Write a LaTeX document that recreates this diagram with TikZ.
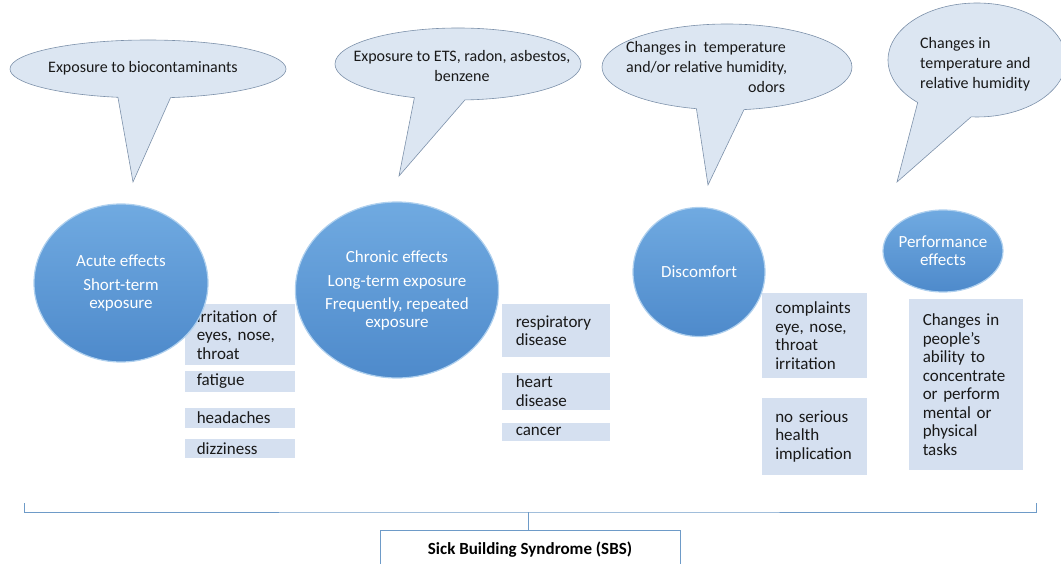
\documentclass[tikz,border=0pt]{standalone}
\usepackage{fontspec}
\setmainfont{Carlito}
\usetikzlibrary{positioning, shapes.geometric, shapes.callouts}
\definecolor{bubblefill}{RGB}{220,230,242}
\definecolor{bubbleline}{RGB}{125,145,170}
\definecolor{effecttop}{RGB}{112,170,225}
\definecolor{effectbot}{RGB}{78,138,203}
\definecolor{effectrim}{RGB}{175,208,238}
\definecolor{boxfill}{RGB}{213,224,240}
\definecolor{bracketblue}{RGB}{110,155,200}
\tikzset{
  bubble/.style={ellipse callout, draw=bubbleline, fill=bubblefill, line width=0.6pt, inner sep=0pt},
  bubtext/.style={inner sep=0pt, font=\fontsize{16}{20}\selectfont, text=black!90},
  effect/.style={ellipse, inner sep=0pt, draw=effectrim, line width=1.2pt, top color=effecttop, bottom color=effectbot, text=white, align=center, font=\fontsize{17}{18}\selectfont},
  symptom/.style={rectangle, fill=boxfill, draw=white, line width=1.5pt, inner sep=0pt, align=left, font=\fontsize{17}{18.5}\selectfont, text=black!90},
  acutebox/.style={symptom, minimum width=112pt, text width=86pt},
  chronicbox/.style={symptom, minimum width=110pt, text width=80pt},
  comfortbox/.style={symptom, minimum width=107pt, text width=78pt},
  perfbox/.style={symptom, minimum width=116pt, text width=86pt},
  bracket/.style={draw=bracketblue, line width=0.9pt},
  title/.style={rectangle, draw=bracketblue, fill=white, line width=1pt, minimum width=300pt, minimum height=40pt, font=\bfseries\fontsize{17}{20}\selectfont},
}

\begin{document}
\begin{tikzpicture}[x=1pt, y=-1pt]
  \clip (0,0) rectangle (1061,564);

  % speech bubbles
  \coordinate (tip1) at (133,182);
  \coordinate (tip2) at (399,176);
  \coordinate (tip3) at (708,185);
  \coordinate (tip4) at (897,182);
  \node[bubble, minimum width=276pt, minimum height=58pt, callout absolute pointer={(tip1)}, callout pointer arc=22] (b1) at (148,69) {};
  \node[bubble, minimum width=246pt, minimum height=72pt, callout absolute pointer={(tip2)}, callout pointer arc=24] (b2) at (458,64) {};
  \node[bubble, minimum width=250pt, minimum height=86pt, callout absolute pointer={(tip3)}, callout pointer arc=22] (b3) at (727,67) {};
  \node[bubble, minimum width=178pt, minimum height=114pt, callout absolute pointer={(tip4)}, callout pointer arc=38] (b4) at (977,60) {};

  \node[bubtext] (t1) at (143,68) {Exposure to biocontaminants};
  \node[bubtext, align=center] (t2) at (462,66) {Exposure to ETS, radon, asbestos,\\benzene};
  \node[bubtext, align=left, anchor=west] (t3) at (626,67) {Changes in~ temperature\\and/or relative humidity,\\\hspace*{122pt}odors};
  \node[bubtext, align=left, anchor=west] (t4) at (920,64) {Changes in\\temperature and\\relative humidity};

  % symptoms
  \node[acutebox, minimum height=62pt, anchor=north west] (ac1) at (183,303) {irritation of\\eyes, nose,\\throat};
  \node[acutebox, minimum height=22pt, below=3pt of ac1] (ac2) {fatigue};
  \node[acutebox, minimum height=22pt, below=13pt of ac2] (ac3) {headaches};
  \node[acutebox, minimum height=20pt, below=8pt of ac3] (ac4) {dizziness};

  \node[chronicbox, minimum height=54pt, anchor=north west] (ch1) at (500,303) {respiratory\\disease};
  \node[chronicbox, minimum height=38pt, below=13pt of ch1] (ch2) {heart\\disease};
  \node[chronicbox, minimum height=20pt, below=10pt of ch2] (ch3) {cancer};

  \node[comfortbox, minimum height=86pt, anchor=north west] (co1) at (760,292) {complaints\\eye, nose,\\throat\\irritation};
  \node[comfortbox, minimum height=78pt, below=17pt of co1] (co2) {no serious\\health\\implication};

  \node[perfbox, minimum height=172pt, anchor=north west] (pe1) at (907,298) {Changes in\\people's\\ability to\\concentrate\\or perform\\mental or\\physical\\tasks};

  % effects
  \node[effect, minimum width=174pt, minimum height=158pt] (acute) at (121,283) {Acute effects\\[6pt]Short-term\\exposure};
  \node[effect, minimum width=201pt, minimum height=176pt] (chronic) at (397,290) {Chronic effects\\[6pt]Long-term exposure\\[5pt]Frequently, repeated\\exposure};
  \node[effect, minimum width=132pt, minimum height=129pt] (comfort) at (699,272) {Discomfort};
  \node[effect, minimum width=120pt, minimum height=82pt, inner xsep=-6pt] (perf) at (943,251) {Performance\\effects};

  % bracket and title
  \node[title] (sbs) at (530,550) {Sick Building Syndrome (SBS)};
  \coordinate (brl) at (24,503);
  \coordinate (brr) at (1036,503);
  \coordinate (brm) at (528,512);
  \draw[bracket] (brl) |- (brm) -| (brr);
  \draw[bracket] (sbs.north -| brm) -- (brm);
\end{tikzpicture}
\end{document}
